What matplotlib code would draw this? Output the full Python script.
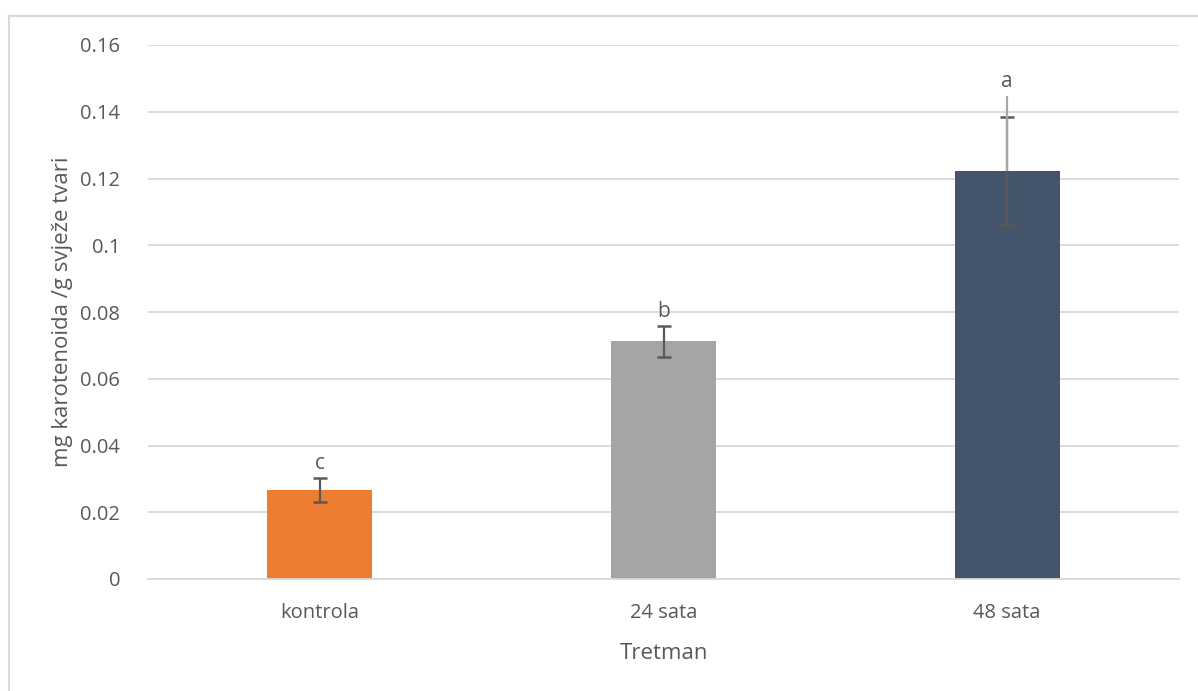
import matplotlib.pyplot as plt
import matplotlib.patches as patches
import numpy as np

plt.rcParams['font.family'] = ['Open Sans', 'DejaVu Sans']

# data
treatments = ['kontrola', '24 sata', '48 sata']
carotenoids = [0.0267, 0.0712, 0.1223]
std_err = [0.0035, 0.0047, 0.0162]
upper_whisker = [None, None, 0.1447]   # extra light-gray line on the 48 h bar
letters = ['c', 'b', 'a']
bar_colors = ['#ED7D31', '#A5A5A5', '#44546A']

text_col = '#595959'
grid_col = '#D9D9D9'

fig = plt.figure(figsize=(11.98, 6.91), dpi=100)
ax = fig.add_axes([148 / 1198, 1 - 579 / 691, (1179 - 148) / 1198, (579 - 45) / 691])

x = np.arange(len(treatments))
ax.bar(x, carotenoids, width=0.305, color=bar_colors, zorder=2)
ax.errorbar(x, carotenoids, yerr=std_err, fmt='none', ecolor='#595959',
            elinewidth=1.6, capsize=5, capthick=1.8, zorder=3)

# light gray whisker drawn on top of the 48 h error bar
for i, top in enumerate(upper_whisker):
    if top is not None:
        ax.vlines(x[i], carotenoids[i], top, color='#A6A6A6', lw=1.6, zorder=4)

# significance letters
for i, lt in enumerate(letters):
    top = carotenoids[i] + std_err[i]
    if upper_whisker[i] is not None:
        top = max(top, upper_whisker[i])
    ax.annotate(lt, (x[i], top), xytext=(0, 3), textcoords='offset points',
                ha='center', va='bottom', fontsize=15, color=text_col)

ax.set_xlim(-0.5, 2.5)
ax.set_ylim(0, 0.16)
ax.set_yticks(np.arange(0, 0.161, 0.02))
ax.set_yticklabels(['0', '0.02', '0.04', '0.06', '0.08', '0.1', '0.12', '0.14', '0.16'])
ax.set_xticks(x)
ax.set_xticklabels(treatments)

ax.yaxis.grid(True, color=grid_col, lw=1.3, zorder=0)
ax.set_axisbelow(True)
for side in ['top', 'right', 'left']:
    ax.spines[side].set_visible(False)
ax.spines['bottom'].set_color(grid_col)
ax.spines['bottom'].set_linewidth(1.3)
ax.tick_params(axis='both', length=0, labelsize=14.5, colors=text_col)
ax.tick_params(axis='x', pad=17)
ax.tick_params(axis='y', pad=20)

ax.set_xlabel('Tretman', fontsize=16, color=text_col, labelpad=15)
ax.set_ylabel('mg karotenoida /g svježe tvari', fontsize=16, color=text_col, labelpad=5)

# chart-area border (only left/top visible in the crop)
fig.add_artist(patches.Rectangle((9 / 1198, -0.05), 1.2, 1.05 - 16 / 691,
                                 transform=fig.transFigure, fill=False,
                                 edgecolor=grid_col, lw=1.5))

fig.savefig('out.png', dpi=100)
